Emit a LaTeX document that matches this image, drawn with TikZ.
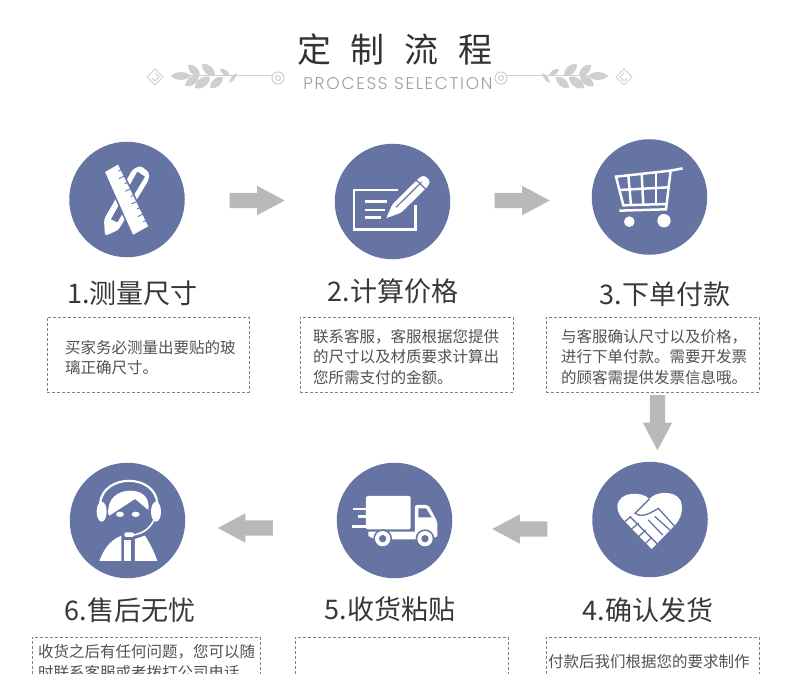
\documentclass[tikz,border=0pt]{standalone}
\usepackage{fontspec}
\usetikzlibrary{shapes.arrows}
\newfontfamily\cjk{Noto Sans CJK SC}
\newfontfamily\procfont[LetterSpace=10]{Poppins Light}

\definecolor{stepblue}{HTML}{6674A4}
\definecolor{arrowgray}{HTML}{B9B9B9}
\definecolor{sprigcolor}{HTML}{CFCFCF}

\tikzset{
  stepdisc/.style={circle,fill=stepblue,minimum size=115.5pt,inner sep=0pt},
  steptitle/.style={text=black!78,font=\cjk\fontsize{27}{30}\selectfont,inner sep=0pt},
  stepbox/.style={draw=black!50,densely dashed,minimum width=#1,inner sep=0pt},
  steptext/.style={anchor=west,text=black!68,align=left,inner sep=0pt,font=\cjk\fontsize{15.5}{20.6}\selectfont},
  blockarrow/.style={single arrow,fill=arrowgray,inner xsep=0pt,inner ysep=7.5pt,minimum height=55pt,minimum width=29pt,
    single arrow head extend=7pt,single arrow tip angle=56,shape border rotate=#1},
  iconline/.style={draw=white,line width=2.5pt},
  cutline/.style={draw=stepblue,line width=1.3pt,line cap=round},
  sprig/.pic={
    % key, stem and spiral
    \draw[sprigcolor,line width=1pt] (0,-8) -- (8,0) -- (0,8) -- (-8,0) -- cycle;
    \draw[sprigcolor,line width=1pt] (0,-4) -- (4,0) -- (0,4) -- (-3,1);
    \draw[sprigcolor,line width=1pt] (16,-1) -- (117,-1);
    \draw[sprigcolor,line width=1pt] (123,1) circle (6);
    \draw[sprigcolor,line width=1pt] (123,1) circle (2.5);
    % leaves
    \fill[sprigcolor] (16,-1) to[bend left=45] (36,-1) to[bend left=45] (16,-1);
    \fill[sprigcolor] (33,-12) to[bend left=55] (45,-1) to[bend left=55] (33,-12);
    \fill[sprigcolor] (47,-13) to[bend left=55] (60,-1) to[bend left=55] (47,-13);
    \fill[sprigcolor] (65,-8) to[bend left=45] (75,-1) to[bend left=45] (65,-8);
    \fill[sprigcolor] (30,9) to[bend left=55] (44,-1) to[bend left=55] (30,9);
    \fill[sprigcolor] (40,11) to[bend left=55] (55,0) to[bend left=55] (40,11);
    \fill[sprigcolor] (55,11) to[bend left=55] (68,0) to[bend left=55] (55,11);
    \fill[sprigcolor] (74,6) to[bend left=30] (82,-4) to[bend left=30] (74,6);
  }
}

\begin{document}
\begin{tikzpicture}[x=1pt,y=-1pt]
  \useasboundingbox (0,0) rectangle (790,674);
  \clip (0,0) rectangle (790,674);
  \fill[white] (0,0) rectangle (790,674);

  % heading
  \node[text=black!80,font=\cjk\fontsize{34}{36}\selectfont,inner sep=0pt] (head) at (395,50) {定\hspace{20pt}制\hspace{20pt}流\hspace{20pt}程};
  \node[text=black!38,font=\procfont\fontsize{17}{18}\selectfont,inner sep=0pt] (sub) at (398,84) {PROCESS SELECTION};
  \pic at (155,77) {sprig};
  \pic[xscale=-1] at (624,77) {sprig};

  % discs
  \node[stepdisc] (step1) at (127,199.5) {};
  \node[stepdisc] (step2) at (392.5,201.5) {};
  \node[stepdisc] (step3) at (649.5,197) {};
  \node[stepdisc] (step4) at (650,519.5) {};
  \node[stepdisc] (step5) at (394.5,520.5) {};
  \node[stepdisc] (step6) at (127.5,520.5) {};

  % block arrows
  \node[blockarrow=0] (arrow12) at (250,200.5) {};
  \node[blockarrow=0] (arrow23) at (515,200.5) {};
  \node[blockarrow=270,inner xsep=7.5pt,inner ysep=0pt] (arrow34) at (657.5,415.5) {};
  \node[blockarrow=180] (arrow45) at (527,529) {};
  \node[blockarrow=180] (arrow56) at (252.5,528) {};

  % titles
  \node[steptitle] (title1) at (132.5,293) {1.测量尺寸};
  \node[steptitle] (title2) at (393,291.5) {2.计算价格};
  \node[steptitle] (title3) at (665,294) {3.下单付款};
  \node[steptitle] (title4) at (648,610) {4.确认发货};
  \node[steptitle] (title5) at (390,609) {5.收货粘贴};
  \node[steptitle] (title6) at (130,610) {6.售后无忧};

  % dashed boxes
  \node[stepbox=202pt,minimum height=75pt] (box1) at (148,354.5) {};
  \node[stepbox=213pt,minimum height=75pt] (box2) at (406.5,354.5) {};
  \node[stepbox=213pt,minimum height=75pt] (box3) at (652.5,354.5) {};
  \node[stepbox=213pt,minimum height=80pt] (box4) at (652.5,677) {};
  \node[stepbox=213pt,minimum height=80pt] (box5) at (401.5,677) {};
  \node[stepbox=228pt,minimum height=80pt] (box6) at (146,677) {};

  % box texts
  \node[steptext] (text1) at (65,357.5) {买家务必测量出要贴的玻\\璃正确尺寸。};
  \node[steptext] (text2) at (313,357) {联系客服，客服根据您提供\\的尺寸以及材质要求计算出\\您所需支付的金额。};
  \node[steptext] (text3) at (561,357) {与客服确认尺寸以及价格，\\进行下单付款。需要开发票\\的顾客需提供发票信息哦。};
  \node[steptext] (text4) at (548,662) {付款后我们根据您的要求制作};
  \node[steptext] (text6) at (38,662) {收货之后有任何问题，您可以随\\时联系客服或者拨打公司电话};

  % ruler and pencil
  \begin{scope}[shift={(30,130)},scale=0.3333]
    \fill[white,rounded corners=3pt] (225,318) -- (222,268) -- (308,118) -- (332,107) -- (358,128) -- (356,150) -- (265,300) -- cycle;
    \fill[stepblue] (243,268) -- (262,277) -- (345,140) -- (322,125) -- cycle;
    \draw[stepblue,line width=1.5pt,fill=white] (222,125) -- (265,100) -- (358,290) -- (308,318) -- cycle;
    \foreach \t/\l in {0.1/10,0.2/18,0.3/10,0.4/18,0.5/10,0.6/18,0.7/10,0.8/18,0.9/10}
      \draw[stepblue,line width=0.9pt] ({265+93*\t},{100+190*\t}) -- ++({-\l*0.9},{\l*0.44});
  \end{scope}

  % cheque and pen
  \begin{scope}[shift={(290,130)},scale=0.3333]
    \draw[iconline] (325,180) -- (192,180) -- (192,298) -- (376,298) -- (376,225);
    \draw[iconline] (225,215) -- (292,215);
    \draw[iconline] (225,240) -- (285,240);
    \draw[iconline] (225,262) -- (272,262);
    \draw[stepblue,line width=1.2pt,fill=white,rounded corners=2pt] (285,268) -- (305,222) -- (388,140) -- (403,134) -- (422,150) -- (418,168) -- (335,250) -- cycle;
    \draw[stepblue,line width=1.2pt] (318,232) -- (395,156);
    \draw[stepblue,line width=1.2pt] (378,150) -- (408,178);
  \end{scope}

  % cart
  \begin{scope}[shift={(530,130)},scale=0.3333]
    \draw[iconline] (458,115) -- (422,122) -- (408,238) -- (268,242);
    \draw[iconline] (422,122) -- (258,140) -- (280,226) -- (410,222);
    \draw[iconline] (268,180) -- (416,172);
    \draw[iconline] (295,136) -- (303,225);
    \draw[iconline] (335,132) -- (340,224);
    \draw[iconline] (378,127) -- (378,223);
    \fill[white] (298,275) circle (16);
    \fill[white] (402,272) circle (20);
  \end{scope}

  % heart with handshake
  \begin{scope}[shift={(610,485)},scale=0.3333]
    \fill[white] (118,42) .. controls (100,20) and (25,15) .. (22,65) .. controls (22,85) and (35,100) .. (50,115)
      -- (125,192) -- (195,120) .. controls (210,105) and (218,85) .. (215,60) .. controls (212,15) and (140,15) .. (118,42) -- cycle;
    \draw[cutline] (118,42) -- (75,85) .. controls (90,95) and (105,95) .. (145,70) -- (195,125);
    \draw[cutline] (60,95) -- (140,175);
    \draw[cutline] (35,118) -- (62,95);
    \draw[cutline] (55,140) -- (85,115);
    \draw[cutline] (78,162) -- (107,135);
    \draw[cutline] (100,182) -- (125,157);
    \draw[cutline] (115,105) -- (158,150);
    \draw[cutline] (135,95) -- (180,135);
  \end{scope}

  % truck
  \begin{scope}[shift={(280,450)},scale=0.3333]
    \fill[white,rounded corners=2pt] (258,138) rectangle (392,238);
    \draw[iconline] (220,177) -- (260,177);
    \draw[iconline] (235,200) -- (260,200);
    \draw[iconline] (215,229) -- (260,229);
    \fill[white,rounded corners=2pt] (405,165) -- (445,165) -- (472,215) -- (472,262) -- (405,265) -- cycle;
    \fill[white] (265,245) -- (410,245) -- (410,268) -- (285,268) -- (265,258) -- cycle;
    \fill[stepblue] (415,175) -- (438,175) -- (455,202) -- (415,202) -- cycle;
    \foreach \wheelx in {308,435} {
      \fill[stepblue] (\wheelx,266) circle (28);
      \fill[white] (\wheelx,266) circle (23);
      \fill[stepblue] (\wheelx,266) circle (11);
    }
  \end{scope}

  % support agent
  \begin{scope}[shift={(90,475)},scale=0.3333]
    \fill[white] (35,110) ellipse (15 and 30);
    \fill[white] (198,110) ellipse (15 and 30);
    \draw[white,line width=2.2pt] (30,85) .. controls (40,-5) and (195,-5) .. (202,85);
    \fill[white] (55,118) .. controls (50,70) and (85,47) .. (120,47) .. controls (160,47) and (180,70) .. (175,105)
      -- (135,72) -- (58,122) -- cycle;
    \fill[white] (90,118) ellipse (12 and 8);
    \fill[white] (137,118) ellipse (12 and 8);
    \draw[white,line width=1.6pt] (192,135) .. controls (180,160) and (160,175) .. (130,180);
    \fill[white,rounded corners=2pt] (103,172) rectangle (132,186);
    \fill[white] (28,258) .. controls (40,225) and (60,195) .. (94,182) -- (94,258) -- cycle;
    \fill[white] (135,192) -- (165,182) .. controls (180,205) and (195,235) .. (202,258) -- (135,258) -- cycle;
    \fill[white] (102,196) rectangle (124,258);
  \end{scope}
\end{tikzpicture}
\end{document}
